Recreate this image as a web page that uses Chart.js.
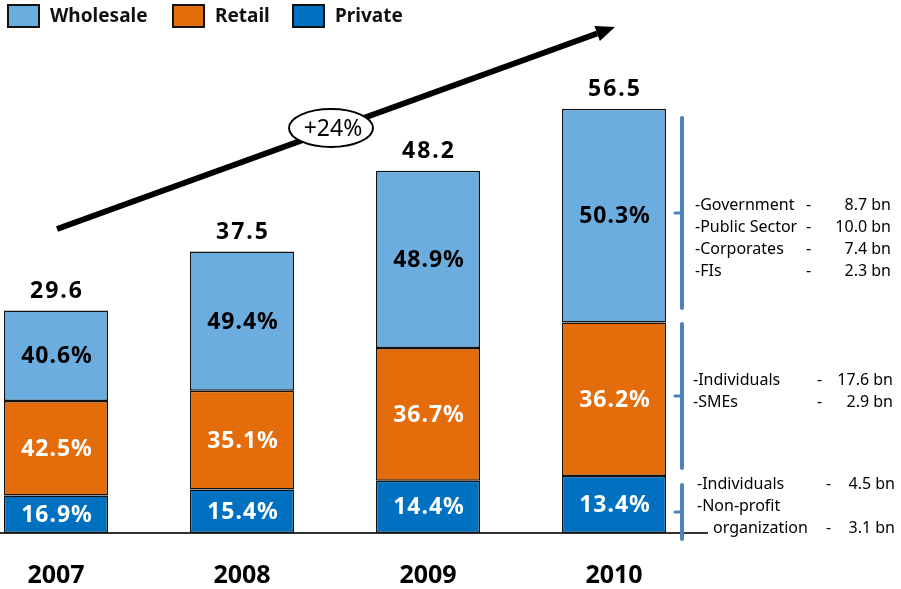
<!DOCTYPE html>
<html>
<head>
<meta charset="utf-8">
<script src="https://cdn.jsdelivr.net/npm/chart.js@4/dist/chart.umd.min.js"></script>
<style>
  html, body { margin: 0; padding: 0; background: #fff; width: 901px; height: 589px; overflow: hidden; }
  #wrap { position: absolute; left: -37px; top: 0; width: 938px; height: 589px; }
</style>
</head>
<body>
<div id="wrap"><canvas id="c" width="938" height="589"></canvas></div>
<script>
// ---- data ----
const years = ['2007', '2008', '2009', '2010'];
const totals = [29.6, 37.5, 48.2, 56.5];            // bn
const privateShare = [16.9, 15.4, 14.4, 13.4];      // % of total
const retailShare = [42.5, 35.1, 36.7, 36.2];
const wholesaleShare = [40.6, 49.4, 48.9, 50.3];
const growthLabel = '+24%';

// 2010 breakdown by segment: [label, amount]
const wholesaleBreakdown = [['-Government', '8.7 bn'], ['-Public Sector', '10.0 bn'], ['-Corporates', '7.4 bn'], ['-FIs', '2.3 bn']];
const retailBreakdown = [['-Individuals', '17.6 bn'], ['-SMEs', '2.9 bn']];
const privateBreakdown = [['-Individuals', '4.5 bn'], ['-Non-profit', ''], ['organization', '3.1 bn']];

const FONT = '"Noto Sans", "Open Sans", sans-serif';
const SHIFT = 37; // canvas starts 37px left of the page edge

const toAmounts = shares => shares.map((p, i) => totals[i] * p / 100);

// ---- decorations: value labels, legend, growth arrow, 2010 breakdown ----
const decor = {
  id: 'decor',
  afterDatasetsDraw(chart) {
    const ctx = chart.ctx;
    ctx.save();
    ctx.textAlign = 'center';
    ctx.textBaseline = 'middle';
    chart.data.datasets.forEach((ds, di) => {
      const meta = chart.getDatasetMeta(di);
      meta.data.forEach((bar, i) => {
        ctx.fillStyle = ds.textColor;
        ctx.font = 'bold 23px ' + FONT;
        ctx.letterSpacing = '1px';
        ctx.fillText(ds.shares[i].toFixed(1) + '%', bar.x + 1, (bar.y + bar.base) / 2 + 1);
      });
    });
    // totals above the stacks
    const top = chart.getDatasetMeta(chart.data.datasets.length - 1);
    top.data.forEach((bar, i) => {
      ctx.fillStyle = '#000';
      ctx.font = 'bold 23px ' + FONT;
      ctx.letterSpacing = '2px';
      ctx.fillText(totals[i].toFixed(1), bar.x + 1, bar.y - 19);
    });
    ctx.restore();
  },
  afterDraw(chart) {
    const ctx = chart.ctx;
    ctx.save();
    ctx.translate(SHIFT, 0);
    ctx.letterSpacing = '0px';

    // legend
    const legendItems = [
      { ds: 2, x: 8 }, { ds: 1, x: 173 }, { ds: 0, x: 293 }
    ];
    legendItems.forEach(it => {
      const ds = chart.data.datasets[it.ds];
      ctx.fillStyle = ds.backgroundColor;
      ctx.fillRect(it.x, 5, 31, 22);
      ctx.lineWidth = 2;
      ctx.strokeStyle = '#111';
      ctx.strokeRect(it.x, 5, 31, 22);
      ctx.fillStyle = '#111';
      ctx.font = 'bold 19px ' + FONT;
      ctx.textAlign = 'left';
      ctx.textBaseline = 'middle';
      ctx.fillText(ds.label, it.x + 42, 17);
    });

    // growth arrow
    const x0 = 57, y0 = 229, x1 = 615, y1 = 27;
    const ang = Math.atan2(y1 - y0, x1 - x0);
    const headLen = 19, headHalf = 8;
    const bx = x1 - headLen * Math.cos(ang), by = y1 - headLen * Math.sin(ang);
    ctx.strokeStyle = '#000';
    ctx.lineWidth = 6;
    ctx.lineCap = 'butt';
    ctx.beginPath();
    ctx.moveTo(x0, y0);
    ctx.lineTo(bx, by);
    ctx.stroke();
    ctx.fillStyle = '#000';
    ctx.beginPath();
    ctx.moveTo(x1, y1);
    ctx.lineTo(bx + headHalf * Math.sin(ang), by - headHalf * Math.cos(ang));
    ctx.lineTo(bx - headHalf * Math.sin(ang), by + headHalf * Math.cos(ang));
    ctx.closePath();
    ctx.fill();

    // growth badge
    ctx.beginPath();
    ctx.ellipse(331, 128, 42, 19, 0, 0, Math.PI * 2);
    ctx.fillStyle = '#fff';
    ctx.fill();
    ctx.lineWidth = 2;
    ctx.strokeStyle = '#000';
    ctx.stroke();
    ctx.fillStyle = '#000';
    ctx.font = '23px ' + FONT;
    ctx.textAlign = 'center';
    ctx.fillText(growthLabel, 333, 129);

    // brackets
    const brackets = [[118, 308], [324, 468], [485, 539]];
    ctx.strokeStyle = '#4F81BD';
    ctx.lineCap = 'round';
    brackets.forEach(([t, b]) => {
      ctx.lineWidth = 4;
      ctx.beginPath();
      ctx.moveTo(682, t);
      ctx.lineTo(682, b);
      ctx.stroke();
      ctx.lineWidth = 3;
      ctx.beginPath();
      ctx.moveTo(675, (t + b) / 2);
      ctx.lineTo(682, (t + b) / 2);
      ctx.stroke();
    });

    // breakdown text
    const groups = [
      { rows: wholesaleBreakdown, x: 695, dashX: 806, right: 891, y: 205 },
      { rows: retailBreakdown, x: 693, dashX: 817, right: 893, y: 380 },
      { rows: privateBreakdown, x: 697, dashX: 826, right: 895, y: 484, indent: [0, 0, 16] }
    ];
    ctx.font = '16px ' + FONT;
    ctx.fillStyle = '#000';
    ctx.textBaseline = 'middle';
    groups.forEach(g => {
      g.rows.forEach(([label, amt], r) => {
        const y = g.y + r * 22;
        const lx = g.x + (g.indent ? g.indent[r] : 0);
        ctx.textAlign = 'left';
        ctx.fillText(label, lx, y);
        if (amt) {
          const end = lx + ctx.measureText(label).width;
          const dx = Math.max(g.dashX, end);
          ctx.fillText('-', dx, y);
          ctx.textAlign = 'right';
          ctx.fillText(amt, g.right, y);
        }
      });
    });
    ctx.restore();
  }
};

new Chart(document.getElementById('c'), {
  type: 'bar',
  data: {
    labels: years,
    datasets: [
      { label: 'Private', data: toAmounts(privateShare), shares: privateShare, backgroundColor: '#0070C0', textColor: '#fff' },
      { label: 'Retail', data: toAmounts(retailShare), shares: retailShare, backgroundColor: '#E46C0A', textColor: '#fff' },
      { label: 'Wholesale', data: toAmounts(wholesaleShare), shares: wholesaleShare, backgroundColor: '#6CADDF', textColor: '#000' }
    ]
  },
  options: {
    responsive: false,
    animation: false,
    layout: { padding: { top: 7, right: 194, left: 0, bottom: 0 } },
    plugins: { legend: { display: false }, tooltip: { enabled: false } },
    datasets: {
      bar: { borderColor: '#111', borderWidth: 1.5, borderSkipped: false, categoryPercentage: 1, barPercentage: 0.56 }
    },
    scales: {
      x: {
        stacked: true,
        grid: { display: false, drawTicks: false },
        border: { display: true, color: '#333', width: 2 },
        ticks: { color: '#000', font: { family: FONT, size: 25, weight: 'bold' }, padding: 28 },
        afterFit(scale) { scale.height = 56; }
      },
      y: { stacked: true, display: false, min: 0, max: 70 }
    }
  },
  plugins: [decor]
});
</script>
</body>
</html>
